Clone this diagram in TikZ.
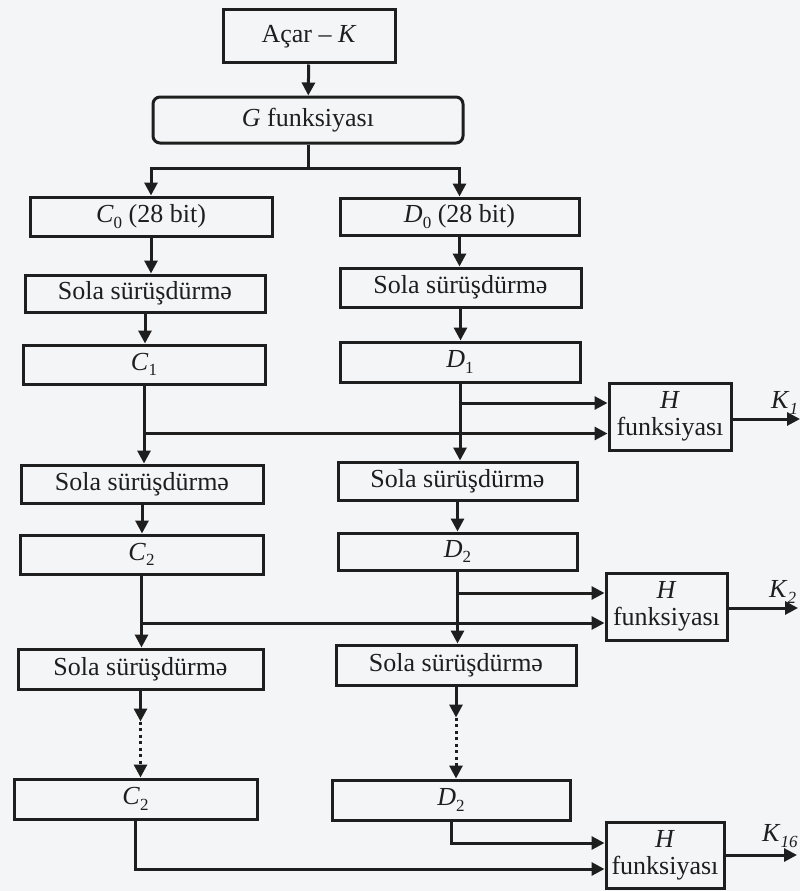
\documentclass[tikz,border=0pt]{standalone}
\usepackage{fontspec}
\setmainfont{Liberation Serif}
\usetikzlibrary{arrows.meta,calc}
\definecolor{ink}{HTML}{1E1E1E}
\definecolor{paper}{HTML}{F3F5F6}
\newcommand{\mysb}[1]{\raisebox{-0.45ex}{\fontsize{17}{17}\selectfont #1}}
\begin{document}
\begin{tikzpicture}[x=1pt,y=-1pt,
  box/.style={draw=ink,line width=3pt,inner sep=0pt,text=ink,align=center,font=\fontsize{26}{27}\selectfont},
  arr/.style={draw=ink,line width=3pt,-{Triangle[length=13pt,width=13pt]}},
  ln/.style={draw=ink,line width=3pt},
  dots/.style={draw=ink,line width=3pt,dash pattern=on 3pt off 3.5pt,-{Triangle[length=13pt,width=13pt]}},
  lbl/.style={text=ink,inner sep=0pt,anchor=west,font=\fontsize{26}{27}\selectfont}]
\fill[paper] (0,0) rectangle (800,891);
\useasboundingbox (0,0) rectangle (800,891);
% boxes
\node[box,minimum width=172pt,minimum height=53pt] (key) at (309,36.5) {Açar – \textit{K}};
\node[box,rounded corners=7pt,minimum width=310pt,minimum height=46pt] (G) at (308,120) {\textit{G} funksiyası};
\node[box,minimum width=242pt,minimum height=39pt] (C0) at (151,216.5) {\textit{C}\mysb{0} (28 bit)};
\node[box,minimum width=239pt,minimum height=37pt] (D0) at (459.5,216.5) {\textit{D}\mysb{0} (28 bit)};
\node[box,minimum width=240pt,minimum height=37pt] (L1) at (145,293.5) {Sola sürüşdürmə};
\node[box,minimum width=241pt,minimum height=39pt] (R1) at (460.5,287.5) {Sola sürüşdürmə};
\node[box,minimum width=242pt,minimum height=39pt] (C1) at (144,364.5) {\textit{C}\mysb{1}};
\node[box,minimum width=240pt,minimum height=40pt] (D1) at (460,362) {\textit{D}\mysb{1}};
\node[box,minimum width=122pt,minimum height=67pt] (H1) at (670,416.5) {\textit{H}\\funksiyası};
\node[box,minimum width=242pt,minimum height=38pt] (L2) at (142,484) {Sola sürüşdürmə};
\node[box,minimum width=239pt,minimum height=38pt] (R2) at (457.5,481) {Sola sürüşdürmə};
\node[box,minimum width=243pt,minimum height=39pt] (C2) at (141.5,554.5) {\textit{C}\mysb{2}};
\node[box,minimum width=239pt,minimum height=37pt] (D2) at (457.5,551.5) {\textit{D}\mysb{2}};
\node[box,minimum width=121pt,minimum height=67pt] (H2) at (666.5,606.5) {\textit{H}\\funksiyası};
\node[box,minimum width=245pt,minimum height=40pt] (L3) at (140.5,669) {Sola sürüşdürmə};
\node[box,minimum width=240pt,minimum height=40pt] (R3) at (456,665) {Sola sürüşdürmə};
\node[box,minimum width=243pt,minimum height=40pt] (C2b) at (135.5,799) {\textit{C}\mysb{2}};
\node[box,minimum width=238pt,minimum height=40pt] (D2b) at (451,800) {\textit{D}\mysb{2}};
\node[box,minimum width=118pt,minimum height=66pt] (H16) at (665,855) {\textit{H}\\funksiyası};
% output labels
\node[lbl] (k1) at (771,403) {\textit{K}\mysb{\textit{1}}};
\node[lbl] (k2) at (769,592) {\textit{K}\mysb{\textit{2}}};
\node[lbl] (k16) at (762,836) {\textit{K}\mysb{\textit{16}}};
% coordinates
\coordinate (split) at (308,168);
\coordinate (h1a) at ($(H1.west)+(0,-13.5)$);
\coordinate (h1b) at ($(H1.west)+(0,17)$);
\coordinate (h2a) at ($(H2.west)+(0,-13.5)$);
\coordinate (h2b) at ($(H2.west)+(0,16.5)$);
\coordinate (h3a) at ($(H16.west)+(0,-12)$);
\coordinate (h3b) at ($(H16.west)+(0,14)$);
\coordinate (k1e) at (800,419);
\coordinate (k2e) at (798,608);
\coordinate (k3e) at (797,855);
\coordinate (lm) at ($(L3.south)+(0,31)$);
\coordinate (rm) at ($(R3.south)+(0,31)$);
% connectors
\draw[arr] (key) -- (G);
\draw[ln] (G.south) -- (split);
\draw[arr] (split) -| (C0.north);
\draw[arr] (split) -| (D0.north);
\draw[arr] (C0.south) -- (C0.south |- L1.north);
\draw[arr] (D0.south) -- (D0.south |- R1.north);
\draw[arr] (L1.south) -- (L1.south |- C1.north);
\draw[arr] (R1.south) -- (R1.south |- D1.north);
\draw[arr] (C1.south) -- (C1.south |- L2.north);
\draw[arr] (D1.south) -- (D1.south |- R2.north);
\draw[arr] (D1.south |- h1a) -- (h1a);
\draw[arr] (C1.south |- h1b) -- (h1b);
\draw[arr] (H1.east |- k1e) -- (k1e);
\draw[arr] (L2.south) -- (L2.south |- C2.north);
\draw[arr] (R2.south) -- (R2.south |- D2.north);
\draw[arr] (C2.south) -- (C2.south |- L3.north);
\draw[arr] (D2.south) -- (D2.south |- R3.north);
\draw[arr] (D2.south |- h2a) -- (h2a);
\draw[arr] (C2.south |- h2b) -- (h2b);
\draw[arr] (H2.east |- k2e) -- (k2e);
\draw[arr] (L3.south) -- (lm);
\draw[dots] (lm) -- (lm |- C2b.north);
\draw[arr] (R3.south) -- (rm);
\draw[dots] (rm) -- (rm |- D2b.north);
\draw[arr] (D2b.south) |- (h3a);
\draw[arr] (C2b.south) |- (h3b);
\draw[arr] (H16.east |- k3e) -- (k3e);
\end{tikzpicture}
\end{document}
